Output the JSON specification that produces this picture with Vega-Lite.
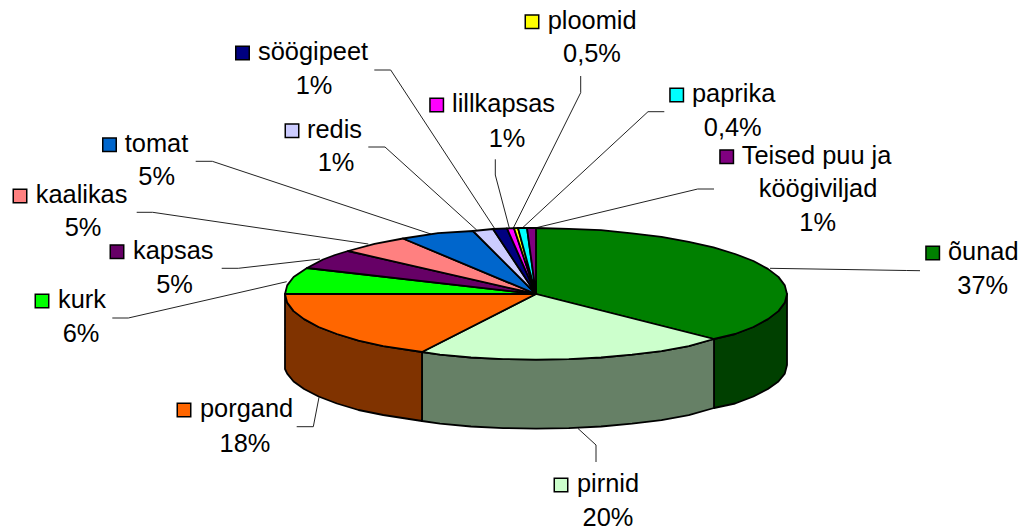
{"$schema":"https://vega.github.io/schema/vega-lite/v6.json","width":1020,"height":527,"padding":0,"autosize":"none","background":"white","view":{"stroke":null},
"datasets":{
"sides":[
{"slice":"õunad külg","seq":1,"x":787,"y":294},{"slice":"õunad külg","seq":2,"x":784.8,"y":302.6},{"slice":"õunad külg","seq":3,"x":778.4,"y":311.1},{"slice":"õunad külg","seq":4,"x":767.9,"y":319.1},{"slice":"õunad külg","seq":5,"x":753.4,"y":327},{"slice":"õunad külg","seq":6,"x":735.1,"y":334},{"slice":"õunad külg","seq":7,"x":714,"y":339},{"slice":"õunad külg","seq":8,"x":714,"y":408},{"slice":"õunad külg","seq":9,"x":735.1,"y":403.5},{"slice":"õunad külg","seq":10,"x":753.4,"y":396.5},{"slice":"õunad külg","seq":11,"x":767.9,"y":389},{"slice":"õunad külg","seq":12,"x":778.4,"y":381.5},{"slice":"õunad külg","seq":13,"x":784.8,"y":373.6},{"slice":"õunad külg","seq":14,"x":787,"y":365},
{"slice":"pirnid külg","seq":1,"x":714,"y":339},{"slice":"pirnid külg","seq":2,"x":688.8,"y":346.1},{"slice":"pirnid külg","seq":3,"x":661.5,"y":351.2},{"slice":"pirnid külg","seq":4,"x":632,"y":354.7},{"slice":"pirnid külg","seq":5,"x":601,"y":357.5},{"slice":"pirnid külg","seq":6,"x":568.8,"y":359.1},{"slice":"pirnid külg","seq":7,"x":536,"y":359.7},{"slice":"pirnid külg","seq":8,"x":503.2,"y":359.1},{"slice":"pirnid külg","seq":9,"x":471,"y":357.5},{"slice":"pirnid külg","seq":10,"x":440,"y":354.7},{"slice":"pirnid külg","seq":11,"x":422,"y":352},{"slice":"pirnid külg","seq":12,"x":422,"y":421},{"slice":"pirnid külg","seq":13,"x":440,"y":423.7},{"slice":"pirnid külg","seq":14,"x":471,"y":426.5},{"slice":"pirnid külg","seq":15,"x":503.2,"y":428.1},{"slice":"pirnid külg","seq":16,"x":536,"y":428.7},{"slice":"pirnid külg","seq":17,"x":568.8,"y":428.1},{"slice":"pirnid külg","seq":18,"x":601,"y":426.5},{"slice":"pirnid külg","seq":19,"x":632,"y":423.7},{"slice":"pirnid külg","seq":20,"x":661.5,"y":420.2},{"slice":"pirnid külg","seq":21,"x":688.8,"y":415.1},{"slice":"pirnid külg","seq":22,"x":714,"y":408},
{"slice":"porgand külg","seq":1,"x":422,"y":352},{"slice":"porgand külg","seq":2,"x":383.2,"y":346.1},{"slice":"porgand külg","seq":3,"x":358.5,"y":340.7},{"slice":"porgand külg","seq":4,"x":336.9,"y":334},{"slice":"porgand külg","seq":5,"x":318.6,"y":327},{"slice":"porgand külg","seq":6,"x":304.1,"y":319.1},{"slice":"porgand külg","seq":7,"x":293.6,"y":311.1},{"slice":"porgand külg","seq":8,"x":287.2,"y":302.6},{"slice":"porgand külg","seq":9,"x":285,"y":294},{"slice":"porgand külg","seq":10,"x":285,"y":369},{"slice":"porgand külg","seq":11,"x":287.2,"y":373.6},{"slice":"porgand külg","seq":12,"x":293.6,"y":381.5},{"slice":"porgand külg","seq":13,"x":304.1,"y":389},{"slice":"porgand külg","seq":14,"x":318.6,"y":396.5},{"slice":"porgand külg","seq":15,"x":336.9,"y":403.5},{"slice":"porgand külg","seq":16,"x":358.5,"y":410},{"slice":"porgand külg","seq":17,"x":383.2,"y":415},{"slice":"porgand külg","seq":18,"x":422,"y":421}
],
"tops":[
{"slice":"õunad","seq":0,"x":536,"y":294},{"slice":"õunad","seq":1,"x":536,"y":228},{"slice":"õunad","seq":2,"x":568.8,"y":228.9},{"slice":"õunad","seq":3,"x":601,"y":230.2},{"slice":"õunad","seq":4,"x":632,"y":233.3},{"slice":"õunad","seq":5,"x":661.5,"y":236.8},{"slice":"õunad","seq":6,"x":688.8,"y":241.9},{"slice":"õunad","seq":7,"x":713.5,"y":247.3},{"slice":"õunad","seq":8,"x":735.1,"y":254},{"slice":"õunad","seq":9,"x":753.4,"y":261},{"slice":"õunad","seq":10,"x":767.9,"y":268.9},{"slice":"õunad","seq":11,"x":778.4,"y":276.9},{"slice":"õunad","seq":12,"x":784.8,"y":285.4},{"slice":"õunad","seq":13,"x":787,"y":294},{"slice":"õunad","seq":14,"x":784.8,"y":302.6},{"slice":"õunad","seq":15,"x":778.4,"y":311.1},{"slice":"õunad","seq":16,"x":767.9,"y":319.1},{"slice":"õunad","seq":17,"x":753.4,"y":327},{"slice":"õunad","seq":18,"x":735.1,"y":334},{"slice":"õunad","seq":19,"x":714,"y":339},
{"slice":"pirnid","seq":0,"x":536,"y":294},{"slice":"pirnid","seq":1,"x":714,"y":339},{"slice":"pirnid","seq":2,"x":688.8,"y":346.1},{"slice":"pirnid","seq":3,"x":661.5,"y":351.2},{"slice":"pirnid","seq":4,"x":632,"y":354.7},{"slice":"pirnid","seq":5,"x":601,"y":357.5},{"slice":"pirnid","seq":6,"x":568.8,"y":359.1},{"slice":"pirnid","seq":7,"x":536,"y":359.7},{"slice":"pirnid","seq":8,"x":503.2,"y":359.1},{"slice":"pirnid","seq":9,"x":471,"y":357.5},{"slice":"pirnid","seq":10,"x":440,"y":354.7},{"slice":"pirnid","seq":11,"x":422,"y":352},
{"slice":"porgand","seq":0,"x":536,"y":294},{"slice":"porgand","seq":1,"x":422,"y":352},{"slice":"porgand","seq":2,"x":383.2,"y":346.1},{"slice":"porgand","seq":3,"x":358.5,"y":340.7},{"slice":"porgand","seq":4,"x":336.9,"y":334},{"slice":"porgand","seq":5,"x":318.6,"y":327},{"slice":"porgand","seq":6,"x":304.1,"y":319.1},{"slice":"porgand","seq":7,"x":293.6,"y":311.1},{"slice":"porgand","seq":8,"x":287.2,"y":302.6},{"slice":"porgand","seq":9,"x":285,"y":294},
{"slice":"kurk","seq":0,"x":536,"y":294},{"slice":"kurk","seq":1,"x":285,"y":294},{"slice":"kurk","seq":2,"x":287.2,"y":285.4},{"slice":"kurk","seq":3,"x":293.6,"y":277},{"slice":"kurk","seq":4,"x":307,"y":268},
{"slice":"kapsas","seq":0,"x":536,"y":294},{"slice":"kapsas","seq":1,"x":307,"y":268},{"slice":"kapsas","seq":2,"x":323,"y":259.5},{"slice":"kapsas","seq":3,"x":335,"y":255},{"slice":"kapsas","seq":4,"x":348,"y":251},
{"slice":"kaalikas","seq":0,"x":536,"y":294},{"slice":"kaalikas","seq":1,"x":348,"y":251},{"slice":"kaalikas","seq":2,"x":374.6,"y":243.8},{"slice":"kaalikas","seq":3,"x":403,"y":238.5},
{"slice":"tomat","seq":0,"x":536,"y":294},{"slice":"tomat","seq":1,"x":403,"y":238.5},{"slice":"tomat","seq":2,"x":438,"y":233.2},{"slice":"tomat","seq":3,"x":473,"y":231},
{"slice":"redis","seq":0,"x":536,"y":294},{"slice":"redis","seq":1,"x":473,"y":231},{"slice":"redis","seq":2,"x":493,"y":229},
{"slice":"söögipeet","seq":0,"x":536,"y":294},{"slice":"söögipeet","seq":1,"x":493,"y":229},{"slice":"söögipeet","seq":2,"x":507,"y":228.4},
{"slice":"lillkapsas","seq":0,"x":536,"y":294},{"slice":"lillkapsas","seq":1,"x":507,"y":228.4},{"slice":"lillkapsas","seq":2,"x":514,"y":228.2},
{"slice":"ploomid","seq":0,"x":536,"y":294},{"slice":"ploomid","seq":1,"x":514,"y":228.2},{"slice":"ploomid","seq":2,"x":518,"y":228},
{"slice":"paprika","seq":0,"x":536,"y":294},{"slice":"paprika","seq":1,"x":518,"y":228},{"slice":"paprika","seq":2,"x":527,"y":228},
{"slice":"Teised puu ja köögiviljad","seq":0,"x":536,"y":294},{"slice":"Teised puu ja köögiviljad","seq":1,"x":527,"y":228},{"slice":"Teised puu ja köögiviljad","seq":2,"x":536,"y":228}
],
"leaders":[
{"slice":"söögipeet","seq":1,"x":374.3,"y":70},{"slice":"söögipeet","seq":2,"x":390.7,"y":70},{"slice":"söögipeet","seq":3,"x":494.3,"y":228},
{"slice":"redis","seq":1,"x":368.3,"y":147},{"slice":"redis","seq":2,"x":385,"y":147},{"slice":"redis","seq":3,"x":476.7,"y":230},
{"slice":"tomat","seq":1,"x":195.7,"y":161.3},{"slice":"tomat","seq":2,"x":212.3,"y":161.3},{"slice":"tomat","seq":3,"x":431.7,"y":234.3},
{"slice":"kaalikas","seq":1,"x":136.7,"y":212.3},{"slice":"kaalikas","seq":2,"x":152.7,"y":212.3},{"slice":"kaalikas","seq":3,"x":368.3,"y":244},
{"slice":"kapsas","seq":1,"x":221.7,"y":268.3},{"slice":"kapsas","seq":2,"x":238.3,"y":268.3},{"slice":"kapsas","seq":3,"x":320,"y":259},
{"slice":"kurk","seq":1,"x":112.3,"y":318},{"slice":"kurk","seq":2,"x":128.3,"y":318},{"slice":"kurk","seq":3,"x":286.7,"y":281.7},
{"slice":"lillkapsas","seq":1,"x":495.3,"y":159.3},{"slice":"lillkapsas","seq":2,"x":495.3,"y":175},{"slice":"lillkapsas","seq":3,"x":509.3,"y":228},
{"slice":"ploomid","seq":1,"x":580.7,"y":76},{"slice":"ploomid","seq":2,"x":580.7,"y":92.7},{"slice":"ploomid","seq":3,"x":513.3,"y":228},
{"slice":"paprika","seq":1,"x":664.3,"y":111.7},{"slice":"paprika","seq":2,"x":648,"y":111.7},{"slice":"paprika","seq":3,"x":522.3,"y":228},
{"slice":"Teised puu ja köögiviljad","seq":1,"x":714,"y":189},{"slice":"Teised puu ja köögiviljad","seq":2,"x":697.7,"y":189},{"slice":"Teised puu ja köögiviljad","seq":3,"x":535,"y":228},
{"slice":"õunad","seq":1,"x":920,"y":270.7},{"slice":"õunad","seq":2,"x":906.7,"y":270.5},{"slice":"õunad","seq":3,"x":770,"y":268.3},
{"slice":"porgand","seq":1,"x":296.7,"y":426.7},{"slice":"porgand","seq":2,"x":313.3,"y":426.7},{"slice":"porgand","seq":3,"x":319,"y":397.3},
{"slice":"pirnid","seq":1,"x":596,"y":462},{"slice":"pirnid","seq":2,"x":596,"y":445},{"slice":"pirnid","seq":3,"x":578,"y":428.5}
],
"names":[
{"slice":"söögipeet","sx":242.5,"sy":53,"tx":258,"ty":60},
{"slice":"redis","sx":292,"sy":130.7,"tx":307,"ty":138},
{"slice":"tomat","sx":109.5,"sy":144.7,"tx":124.7,"ty":151.5},
{"slice":"kaalikas","sx":20,"sy":196,"tx":35.7,"ty":203},
{"slice":"kapsas","sx":117,"sy":251.7,"tx":133,"ty":258.7},
{"slice":"kurk","sx":42,"sy":301,"tx":58,"ty":308},
{"slice":"lillkapsas","sx":436.7,"sy":105,"tx":452,"ty":112},
{"slice":"ploomid","sx":532,"sy":21.7,"tx":547.7,"ty":28.7},
{"slice":"paprika","sx":676.7,"sy":95,"tx":692,"ty":102},
{"slice":"Teised puu ja köögiviljad","label":"Teised puu ja","sx":726.7,"sy":156.7,"tx":741.7,"ty":163.7},
{"slice":"õunad","sx":932.7,"sy":253,"tx":948,"ty":260},
{"slice":"porgand","sx":184,"sy":410,"tx":200,"ty":417},
{"slice":"pirnid","sx":561,"sy":485,"tx":577,"ty":492}
],
"values":[
{"text":"1%","x":314,"y":94},{"text":"1%","x":336,"y":171},{"text":"5%","x":156.7,"y":185},{"text":"5%","x":83,"y":236},{"text":"5%","x":174.5,"y":292.7},{"text":"6%","x":81,"y":342},{"text":"1%","x":507,"y":147},{"text":"0,5%","x":592,"y":62},{"text":"0,4%","x":732.7,"y":135.5},{"text":"köögiviljad","x":818,"y":196.5},{"text":"1%","x":817.7,"y":231},{"text":"37%","x":982.7,"y":294},{"text":"18%","x":245,"y":452},{"text":"20%","x":608,"y":525.5}
]
},
"encoding":{
"x":{"type":"quantitative","scale":{"domain":[0,1020],"nice":false,"zero":false},"axis":null},
"y":{"type":"quantitative","scale":{"domain":[527,0],"nice":false,"zero":false},"axis":null}
},
"resolve":{"scale":{"fill":"shared"}},
"layer":[
{"data":{"name":"leaders"},"mark":{"type":"line","stroke":"#222222","strokeWidth":1,"interpolate":"linear"},"encoding":{"x":{"field":"x","type":"quantitative","scale":{"domain":[0,1020],"nice":false,"zero":false},"axis":null},"y":{"field":"y","type":"quantitative","scale":{"domain":[527,0],"nice":false,"zero":false},"axis":null},"detail":{"field":"slice"},"order":{"field":"seq"}}},
{"data":{"name":"sides"},"mark":{"type":"line","stroke":"black","strokeWidth":1.8,"strokeJoin":"round","interpolate":"linear-closed"},"encoding":{"x":{"field":"x","type":"quantitative"},"y":{"field":"y","type":"quantitative"},"detail":{"field":"slice"},"order":{"field":"seq"},"fill":{"field":"slice","type":"nominal","legend":null,"scale":{"domain":["õunad","pirnid","porgand","kurk","kapsas","kaalikas","tomat","redis","söögipeet","lillkapsas","ploomid","paprika","Teised puu ja köögiviljad","õunad külg","pirnid külg","porgand külg"],"range":["#008000","#CCFFCC","#FF6600","#00FF00","#660066","#FF8080","#0066CC","#CCCCFF","#000080","#FF00FF","#FFFF00","#00FFFF","#800080","#004000","#668066","#803300"]}}}},
{"data":{"name":"tops"},"mark":{"type":"line","stroke":"black","strokeWidth":1.8,"strokeJoin":"round","interpolate":"linear-closed"},"encoding":{"x":{"field":"x","type":"quantitative"},"y":{"field":"y","type":"quantitative"},"detail":{"field":"slice"},"order":{"field":"seq"},"fill":{"field":"slice","type":"nominal","legend":null}}},
{"data":{"name":"names"},"mark":{"type":"point","shape":"square","filled":true,"size":182,"stroke":"black","strokeWidth":1.5,"opacity":1},"encoding":{"x":{"field":"sx","type":"quantitative"},"y":{"field":"sy","type":"quantitative"},"fill":{"field":"slice","type":"nominal","legend":null}}},
{"data":{"name":"names"},"mark":{"type":"text","align":"left","baseline":"alphabetic","font":"Liberation Sans","fontSize":25.4,"fill":"black"},"encoding":{"x":{"field":"tx","type":"quantitative"},"y":{"field":"ty","type":"quantitative"},"text":{"condition":{"test":"datum.label","field":"label"},"field":"slice"}}},
{"data":{"name":"values"},"mark":{"type":"text","align":"center","baseline":"alphabetic","font":"Liberation Sans","fontSize":25.4,"fill":"black"},"encoding":{"x":{"field":"x","type":"quantitative"},"y":{"field":"y","type":"quantitative"},"text":{"field":"text"}}}
]}
